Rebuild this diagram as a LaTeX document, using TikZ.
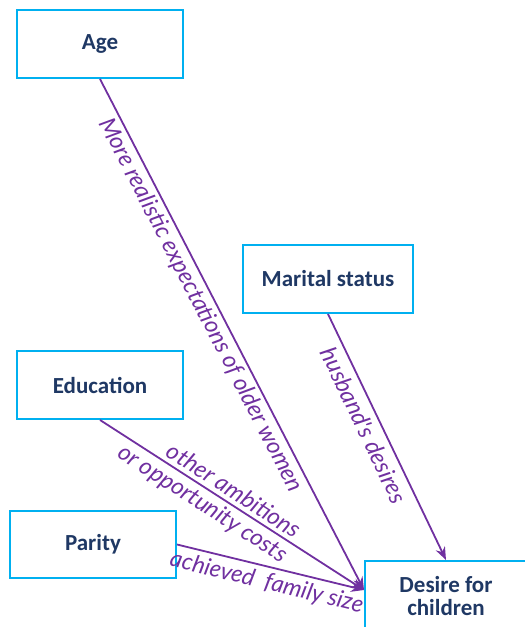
\documentclass[tikz,border=0pt]{standalone}
\usepackage{fontspec}
\setmainfont{Carlito}
\newfontfamily\labelfont{Lato}
\usetikzlibrary{arrows.meta}
\definecolor{boxline}{HTML}{00B0F0}
\definecolor{boxtext}{HTML}{1F3864}
\definecolor{linkcol}{HTML}{7030A0}
\tikzset{
  factor/.style={draw=boxline, line width=2pt, fill=white, text=boxtext,
    font=\fontsize{23}{26}\selectfont\bfseries, align=center, inner sep=0pt},
  link/.style={draw=linkcol, line width=1.8pt,
    -{Stealth[length=13pt,width=10pt]}},
  why/.style={sloped, text=linkcol, font=\labelfont\itshape\fontsize{23.5}{26}\selectfont,
    inner sep=2pt}
}
\begin{document}
\begin{tikzpicture}[x=1pt,y=-1pt]
\useasboundingbox (0,0) rectangle (525,627);
% factor boxes
\node[factor, minimum width=166pt, minimum height=68pt] (age) at (100,44) {Age};
\node[factor, minimum width=170pt, minimum height=68pt] (marital) at (328,279) {Marital status};
\node[factor, minimum width=166pt, minimum height=68pt] (edu) at (100,385) {Education};
\node[factor, minimum width=166pt, minimum height=67pt] (parity) at (93,544.5) {Parity};
\node[factor, minimum width=162pt, minimum height=70pt] (desire) at (446,596) {Desire for\\[-3pt]children};
\coordinate (hub) at (364,590);
% influences
\draw[link] (age.south) -- (hub)
  node[why, below, pos=0.43, inner sep=3pt] {More realistic expectations of older women};
\draw[link] (marital.south) -- (desire.north)
  node[why, below, pos=0.425, inner sep=6pt] {husband's desires};
\draw[link] (edu.south) -- (hub)
  node[why, above, pos=0.48, inner sep=4pt] {other ambitions}
  node[why, below, pos=0.42, inner sep=4pt] {or opportunity costs};
\draw[link] (parity.east) -- (hub)
  node[why, below, pos=0.5, inner sep=4.5pt] {achieved\ \ family size};
\end{tikzpicture}
\end{document}
